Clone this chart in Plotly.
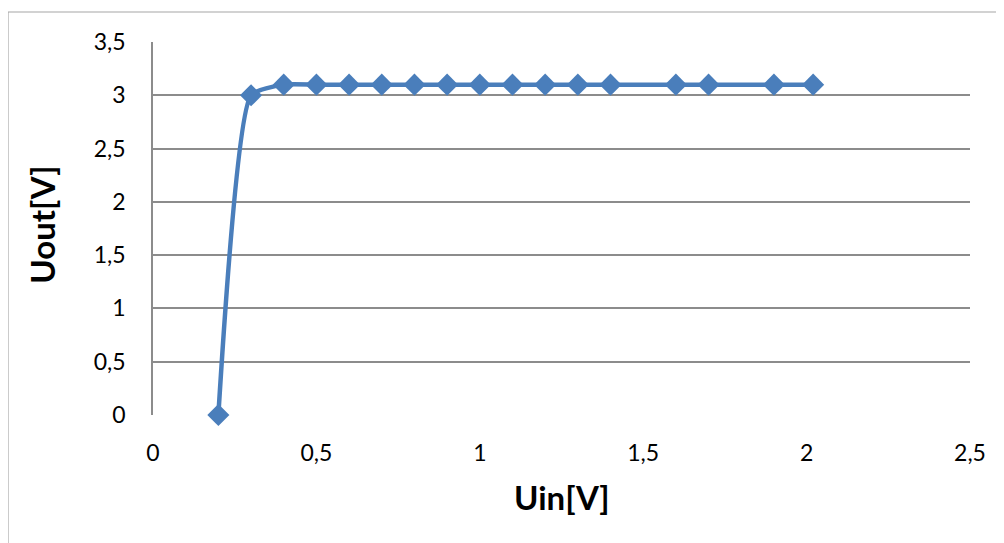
import plotly.graph_objects as go

uin = [0.2, 0.3, 0.4, 0.5, 0.6, 0.7, 0.8, 0.9, 1.0, 1.1, 1.2, 1.3, 1.4, 1.6, 1.7, 1.9, 2.02]
uout = [0.0, 3.0, 3.1, 3.1, 3.1, 3.1, 3.1, 3.1, 3.1, 3.1, 3.1, 3.1, 3.1, 3.1, 3.1, 3.1, 3.1]

x_ticks = [0, 0.5, 1, 1.5, 2, 2.5]
x_labels = ["0", "0,5", "1", "1,5", "2", "2,5"]
y_ticks = [0, 0.5, 1, 1.5, 2, 2.5, 3, 3.5]
y_labels = ["0", "0,5", "1", "1,5", "2", "2,5", "3", "3,5"]

blue = "#4A7EBB"
grid = "#8C8C8C"
font_family = "Lato, 'Open Sans', sans-serif"

fig = go.Figure()
fig.add_trace(go.Scatter(
    x=uin, y=uout, mode="lines+markers",
    line=dict(color=blue, width=4.5, shape="spline", smoothing=0.5),
    marker=dict(symbol="diamond", size=17, color=blue),
    cliponaxis=False,
    showlegend=False,
))

fig.update_layout(
    width=996, height=535,
    margin=dict(l=145, r=34, t=34, b=128),
    paper_bgcolor="white", plot_bgcolor="white",
    font=dict(family=font_family, size=23, color="black"),
    xaxis=dict(
        range=[0, 2.5], tickvals=x_ticks, ticktext=x_labels,
        showgrid=False, zeroline=False, showline=False,
        ticks="", ticklabelstandoff=22,
    ),
    yaxis=dict(
        range=[0, 3.5], tickvals=y_ticks, ticktext=y_labels,
        showgrid=True, gridcolor=grid, gridwidth=1.5,
        zeroline=False, showline=True, linecolor=grid, linewidth=1.5,
        ticks="", ticklabelstandoff=21,
    ),
    annotations=[
        dict(text="<b>Uin[V]</b>", xref="paper", yref="paper", x=0.5, y=-0.22,
             xanchor="center", yanchor="middle", showarrow=False,
             font=dict(size=33, family=font_family, color="black")),
        dict(text="<b>Uout[V]</b>", xref="paper", yref="paper", x=-0.136, y=0.51,
             xanchor="center", yanchor="middle", showarrow=False, textangle=-90,
             font=dict(size=33, family=font_family, color="black")),
    ],
    shapes=[dict(
        type="rect", xref="paper", yref="paper",
        x0=-0.1775, x1=1.2, y0=-0.6, y1=1.0804,
        line=dict(color="#A6A6A6", width=1.2), layer="below",
    )],
)

fig.write_html("out.html")
